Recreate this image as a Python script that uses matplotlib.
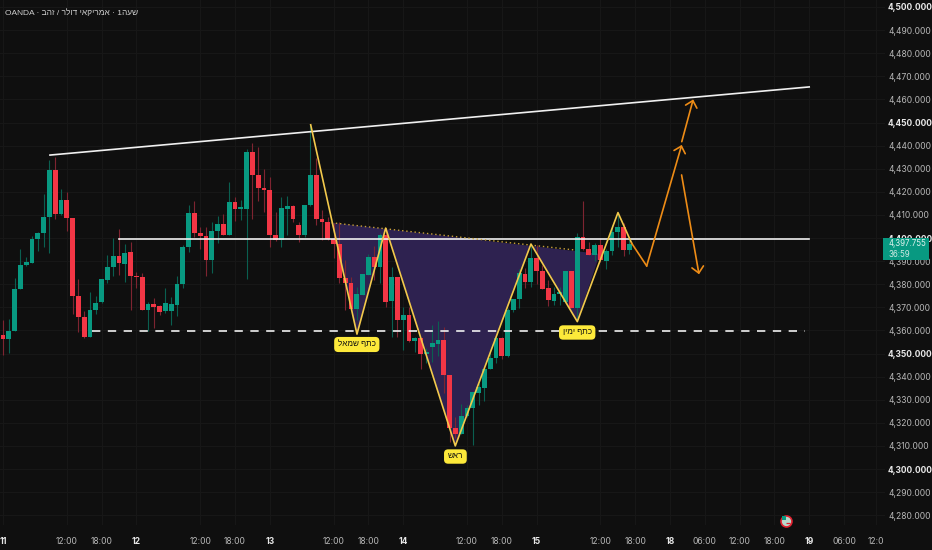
import matplotlib
matplotlib.use('Agg')
import matplotlib.pyplot as plt
from matplotlib.patches import Rectangle

# OHLC hourly candles
opens = [4358.2, 4356.4, 4359.9, 4378.1, 4388.2, 4389.3, 4399.4, 4402.0, 4409.1, 4429.3,
         4410.6, 4416.5, 4408.5, 4375.1, 4365.8, 4357.1, 4368.8, 4372.2, 4382.0, 4387.5,
         4392.2, 4388.9, 4393.8, 4383.6, 4383.1, 4368.7, 4371.3, 4370.4, 4368.6, 4368.6,
         4371.2, 4380.1, 4396.1, 4411.0, 4402.0, 4400.7, 4390.6, 4403.2, 4405.9, 4401.5,
         4415.7, 4412.7, 4412.6, 4437.1, 4427.1, 4421.8, 4420.8, 4401.3, 4399.2, 4412.7,
         4413.7, 4405.5, 4401.3, 4414.2, 4427.4, 4408.2, 4406.8, 4399.7, 4397.4, 4382.7,
         4380.5, 4369.3, 4375.5, 4384.1, 4391.8, 4387.5, 4401.3, 4372.6, 4383.3, 4364.5,
         4366.5, 4355.4, 4356.7, 4349.6, 4352.8, 4354.3, 4356.0, 4340.6, 4317.8, 4315.2,
         4323.1, 4326.4, 4333.1, 4335.2, 4343.3, 4348.1, 4356.9, 4348.9, 4368.7, 4373.5,
         4384.4, 4381.0, 4391.4, 4385.6, 4378.4, 4372.9, 4375.8, 4372.2, 4385.7, 4369.7,
         4400.6, 4395.4, 4392.7, 4396.8, 4390.1, 4394.4, 4402.6, 4404.9, 4394.7]
highs = [4364.5, 4364.8, 4382.6, 4395.1, 4391.9, 4400.9, 4402.8, 4419.1, 4433.8, 4434.9,
         4421.4, 4420.1, 4408.5, 4382.1, 4368.6, 4376.5, 4375.1, 4382.1, 4392.7, 4399.9,
         4403.9, 4397.4, 4398.4, 4385.4, 4385.0, 4372.3, 4374.2, 4371.0, 4378.2, 4374.3,
         4383.6, 4397.0, 4414.3, 4416.0, 4404.9, 4404.6, 4407.1, 4409.7, 4410.3, 4424.1,
         4417.9, 4416.5, 4438.4, 4441.0, 4439.6, 4429.7, 4426.3, 4411.1, 4417.6, 4418.2,
         4414.3, 4407.1, 4414.3, 4449.1, 4434.5, 4412.1, 4409.3, 4406.4, 4406.8, 4390.5,
         4383.3, 4378.9, 4384.4, 4393.1, 4396.6, 4402.0, 4404.2, 4387.6, 4383.3, 4370.3,
         4370.3, 4357.3, 4356.7, 4352.2, 4362.3, 4364.1, 4361.6, 4340.7, 4322.7, 4328.1,
         4327.7, 4333.5, 4337.1, 4343.6, 4350.8, 4358.0, 4357.3, 4369.6, 4373.5, 4386.4,
         4386.9, 4397.4, 4397.0, 4388.3, 4381.8, 4379.0, 4378.7, 4385.7, 4385.7, 4402.0,
         4416.2, 4398.4, 4397.7, 4399.9, 4395.1, 4405.6, 4410.0, 4406.4, 4399.2]
lows = [4349.4, 4350.1, 4359.9, 4378.1, 4387.9, 4389.3, 4394.5, 4396.3, 4393.4, 4408.1,
        4410.0, 4403.2, 4367.1, 4359.5, 4356.6, 4357.1, 4367.1, 4371.7, 4380.4, 4383.6,
        4384.0, 4381.1, 4368.8, 4378.2, 4368.7, 4359.9, 4360.9, 4366.7, 4367.7, 4362.4,
        4366.4, 4378.2, 4394.1, 4400.6, 4395.1, 4383.7, 4385.0, 4398.0, 4401.3, 4401.3,
        4407.4, 4407.8, 4382.3, 4408.2, 4416.2, 4411.1, 4396.3, 4398.9, 4396.3, 4401.3,
        4407.1, 4398.3, 4400.6, 4413.9, 4405.6, 4399.2, 4399.2, 4391.2, 4380.4, 4368.8,
        4368.8, 4364.5, 4375.3, 4384.1, 4381.8, 4380.4, 4370.3, 4357.3, 4357.3, 4351.5,
        4355.1, 4350.8, 4343.3, 4345.8, 4346.5, 4348.9, 4332.8, 4311.8, 4313.3, 4315.2,
        4322.7, 4310.4, 4327.7, 4329.4, 4343.2, 4345.8, 4347.5, 4348.6, 4368.1, 4369.6,
        4378.2, 4378.7, 4380.1, 4377.8, 4370.6, 4371.0, 4371.0, 4371.7, 4369.6, 4364.5,
        4394.8, 4392.7, 4390.2, 4389.8, 4386.6, 4392.7, 4396.3, 4392.4, 4393.1]
closes = [4356.4, 4359.9, 4378.1, 4388.2, 4389.8, 4399.4, 4402.0, 4409.1, 4429.6, 4410.6,
          4416.5, 4408.5, 4375.1, 4365.8, 4357.2, 4368.8, 4372.0, 4382.1, 4387.5, 4392.2,
          4389.1, 4393.7, 4383.4, 4383.0, 4368.7, 4371.3, 4370.3, 4367.8, 4371.9, 4371.3,
          4380.1, 4396.3, 4411.0, 4402.0, 4400.9, 4390.6, 4403.2, 4405.9, 4401.5, 4415.6,
          4412.4, 4412.9, 4437.2, 4427.1, 4421.8, 4420.8, 4401.3, 4399.2, 4412.9, 4413.7,
          4408.1, 4401.3, 4414.2, 4427.4, 4408.2, 4406.9, 4399.6, 4397.4, 4382.6, 4380.5,
          4369.3, 4375.6, 4384.4, 4391.8, 4387.5, 4401.3, 4372.5, 4383.3, 4364.5, 4366.5,
          4355.6, 4356.7, 4349.6, 4350.8, 4354.6, 4356.0, 4340.7, 4317.6, 4315.3, 4323.1,
          4326.4, 4333.2, 4335.4, 4343.3, 4348.2, 4356.9, 4348.8, 4368.8, 4373.5, 4384.7,
          4381.0, 4391.4, 4385.6, 4378.1, 4373.0, 4375.8, 4376.6, 4385.7, 4369.9, 4400.6,
          4395.1, 4392.7, 4396.8, 4390.5, 4394.5, 4402.8, 4404.9, 4394.7, 4397.4]

# drawings on the chart, bar number / price
res_x = [8.1, 139.0]
res_y = [4435.9, 4465.4]
neck_level = 4399.6
neck_x = [20.0, 139.0]
supp_level = 4359.7
supp_x = [15.3, 138.3]
zig_x = [53.05, 61.03, 65.98, 77.98, 91.03, 99.02, 106.03, 108.4]
zig_y = [4449.0, 4358.4, 4404.3, 4310.0, 4397.4, 4363.8, 4411.0, 4397.7]
fill_x = [56.67, 61.03, 65.98, 77.98, 91.03, 99.02, 102.9]
fill_y = [4406.6, 4358.4, 4404.3, 4310.0, 4397.4, 4363.8, 4393.1]
dot_x = [56.67, 98.6]
dot_y = [4406.6, 4394.8]
path_x = [108.4, 110.98, 117.02]
path_y = [4397.7, 4387.9, 4440.3]
arrow_up = [117.03, 4441.7, 119.0, 4460.0]
arrow_down = [117.0, 4427.3, 120.0, 4384.3]

pat_labels = ['לאמש ףתכ', 'שאר', 'ןימי ףתכ']
pat_x = [61.0, 78.0, 99.0]
pat_y = [4353.9, 4305.4, 4359.1]

title = 'OANDA · בהז / רלוד יאקירמא · 1העש'
last_price = 4397.755

price_ticks = list(range(4280, 4501, 10))
bold_prices = [4300, 4350, 4400, 4450, 4500]
time_pos = [0, 11, 17, 23, 34, 40, 46, 57, 63, 69, 80, 86, 92, 103, 109, 115, 121, 127, 133, 139, 145, 150.5]
time_labels = ['11', '12:00', '18:00', '12', '12:00', '18:00', '13', '12:00', '18:00', '14', '12:00', '18:00',
               '15', '12:00', '18:00', '18', '06:00', '12:00', '18:00', '19', '06:00', '12:0']
day_labels = ['11', '12', '13', '14', '15', '18', '19']

BG = '#0f0f0f'
GREEN = '#089981'
RED = '#f23645'
YELLOW = '#f2c94c'
ORANGE = '#ee8c16'

plt.rcParams['font.family'] = ['Inter', 'Liberation Sans', 'DejaVu Sans']

fig = plt.figure(figsize=(9.32, 5.5), dpi=100, facecolor=BG)
ax = fig.add_axes([0, 25 / 550, 885 / 932, 525 / 550], facecolor=BG)
ax.set_xlim(-0.517, 152.07)
ax.set_ylim(4275.76, 4503.03)
for s in ax.spines.values():
    s.set_visible(False)

ax.set_axisbelow(True)
ax.grid(color='#181818', lw=0.7)

# pattern fill under the candles
ax.fill(fill_x, fill_y, color='#2e2250', lw=0, zorder=1)

for i in range(len(opens)):
    up = closes[i] >= opens[i]
    c = GREEN if up else RED
    wick = '#0a5f50' if up else '#7e2431'
    ax.vlines(i, lows[i], highs[i], color=wick, lw=0.8, zorder=2)
    bottom = min(opens[i], closes[i])
    ax.bar(i, max(abs(closes[i] - opens[i]), 0.6), bottom=bottom, width=0.8, color=c, lw=0, zorder=3)

ax.plot(res_x, res_y, color='#f0f0f0', lw=1.2, zorder=4)
ax.plot(neck_x, [neck_level, neck_level], color='#f0f0f0', lw=1.2, zorder=4)
ax.plot(supp_x, [supp_level, supp_level], color='#f0f0f0', lw=1.2, dashes=(5, 4.5), zorder=4)
ax.plot(dot_x, dot_y, color='#c9a13a', lw=1.0, ls=(0, (1, 2)), zorder=4)
ax.plot(zig_x, zig_y, color=YELLOW, lw=1.2, zorder=5)
ax.plot(path_x[:2], path_y[:2], color=ORANGE, lw=1.2, zorder=5)

style = dict(arrowstyle='->,head_length=0.45,head_width=0.42', color=ORANGE, lw=1.2, shrinkA=0, shrinkB=0)
ax.annotate('', xy=(path_x[2], path_y[2]), xytext=(path_x[1], path_y[1]), arrowprops=style, zorder=5)
ax.annotate('', xy=(arrow_up[2], arrow_up[3]), xytext=(arrow_up[0], arrow_up[1]), arrowprops=style, zorder=5)
ax.annotate('', xy=(arrow_down[2], arrow_down[3]), xytext=(arrow_down[0], arrow_down[1]), arrowprops=style, zorder=5)

for lab, x, y in zip(pat_labels, pat_x, pat_y):
    ax.text(x, y, lab, ha='center', va='center', fontsize=5.9, color='#111111', zorder=7,
            family=['Liberation Sans', 'DejaVu Sans'],
            bbox=dict(boxstyle='round,pad=0.45,rounding_size=0.5', fc='#fde93a', ec='none'))

# axes ticks
ax.yaxis.tick_right()
ax.set_yticks(price_ticks)
ax.set_yticklabels([f'{p:,.3f}' for p in price_ticks])
ax.set_xticks(time_pos)
ax.set_xticklabels(time_labels)
ax.tick_params(length=0)
ax.tick_params(axis='y', pad=2.2, labelsize=6.1, labelcolor='#b8b8b8')
ax.tick_params(axis='x', pad=8.5, labelsize=6.1, labelcolor='#b8b8b8')
for t, p in zip(ax.get_yticklabels(), price_ticks):
    if p in bold_prices:
        t.set_fontweight('bold')
        t.set_color('#e8e8e8')
for t in ax.get_xticklabels():
    if t.get_text() in day_labels:
        t.set_fontweight('bold')
        t.set_color('#e8e8e8')

# last price tag on the scale
fig.add_artist(Rectangle((883 / 932, 1 - 260 / 550), 46 / 932, 22 / 550, transform=fig.transFigure,
                         fc=GREEN, ec='none', zorder=5))
fig.text(889 / 932, 1 - 243.5 / 550, f'{last_price:,.3f}', ha='left', va='center', fontsize=5.7,
         color='#dff3ee', zorder=6)
fig.text(889 / 932, 1 - 254.5 / 550, '36:59', ha='left', va='center', fontsize=5.7,
         color='#cfeae3', zorder=6)

# small calendar flag near the time scale
ax.scatter([135], [4277.6], s=62, facecolor='#b9d9cc', edgecolor='#e0202f', lw=1.2, zorder=6, clip_on=False)
ax.scatter([134.6], [4278.6], s=7, marker='s', facecolor=GREEN, lw=0, zorder=7, clip_on=False)
ax.scatter([135.4], [4276.7], s=9, marker='_', color='#e0202f', lw=0.9, zorder=7, clip_on=False)

ax.text(5 / 885, 1 - 13 / 525, title, transform=ax.transAxes, ha='left', va='center', fontsize=6.0, color='#cfcfcf',
        family=['Liberation Sans', 'DejaVu Sans'])

fig.savefig('out.png', dpi=100, facecolor=BG)
